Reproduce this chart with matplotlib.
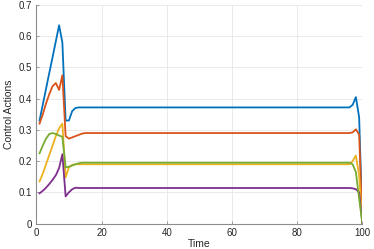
import matplotlib
matplotlib.use("Agg")
import matplotlib.pyplot as plt

plt.rcParams['font.family'] = ['Liberation Sans', 'DejaVu Sans']

# time steps 1..100
t = list(range(1, 101))

# values: start transient + flat part + end transient
u1 = [0.33, 0.381, 0.432, 0.483, 0.533, 0.584, 0.635, 0.58, 0.33, 0.33,
      0.36, 0.37, 0.372, 0.372, 0.372] + [0.372] * 81 + [0.38, 0.405, 0.34, 0.0]
u2 = [0.32, 0.35, 0.385, 0.415, 0.44, 0.45, 0.428, 0.475, 0.28, 0.272,
      0.276, 0.28, 0.284, 0.288, 0.29] + [0.29] * 81 + [0.292, 0.302, 0.285, 0.0]
u3 = [0.135, 0.16, 0.19, 0.22, 0.25, 0.28, 0.305, 0.32, 0.148, 0.18,
      0.188, 0.19, 0.19, 0.19, 0.19] + [0.19] * 81 + [0.2, 0.218, 0.155, 0.0]
u4 = [0.097, 0.105, 0.115, 0.127, 0.14, 0.155, 0.178, 0.222, 0.087, 0.1,
      0.11, 0.115, 0.114, 0.114, 0.114] + [0.114] * 81 + [0.113, 0.11, 0.1, 0.0]
u5 = [0.225, 0.25, 0.272, 0.287, 0.29, 0.287, 0.282, 0.278, 0.18, 0.182,
      0.186, 0.19, 0.193, 0.195, 0.195] + [0.195] * 81 + [0.19, 0.165, 0.08, 0.0]

colors = ['#0072BD', '#D95319', '#EDB120', '#7E2F8E', '#77AC30']

fig = plt.figure(figsize=(3.74, 2.49), dpi=100)
ax = fig.add_axes([0.097, 0.102, 0.872, 0.878])

for u, c in zip([u1, u2, u3, u4, u5], colors):
    ax.plot(t, u, color=c, linewidth=1.3)

ax.set_xlim(0, 100)
ax.set_ylim(0, 0.7)
ax.set_xticks([0, 20, 40, 60, 80, 100])
ax.set_yticks([0, 0.1, 0.2, 0.3, 0.4, 0.5, 0.6, 0.7])
ax.set_yticklabels(['0', '0.1', '0.2', '0.3', '0.4', '0.5', '0.6', '0.7'])
ax.grid(True, color='#e6e6e6', linewidth=0.6)
ax.set_axisbelow(True)
for s in ['top', 'right']:
    ax.spines[s].set_visible(False)
for s in ['left', 'bottom']:
    ax.spines[s].set_color('#8c8c8c')
    ax.spines[s].set_linewidth(0.8)
ax.tick_params(direction='in', length=2.5, width=0.6, colors='#8c8c8c',
               labelcolor='#262626', labelsize=7, pad=3)
ax.set_xlabel('Time', fontsize=7.5, color='#262626', labelpad=1)
ax.set_ylabel('Control Actions', fontsize=7.5, color='#262626', labelpad=3)

fig.savefig('out.png', dpi=100)
